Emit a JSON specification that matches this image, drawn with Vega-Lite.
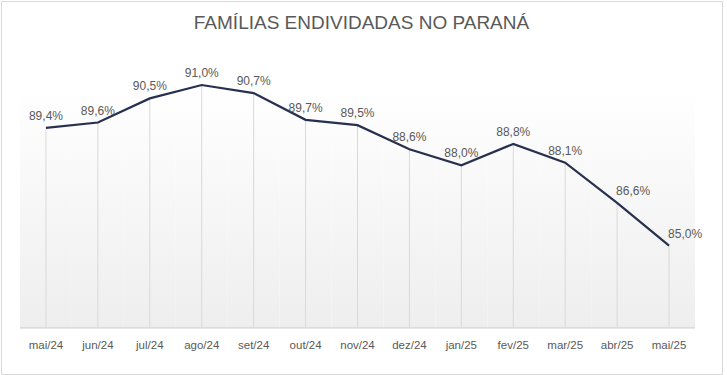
{
  "$schema": "https://vega.github.io/schema/vega-lite/v6.json",
  "width": 721,
  "height": 373,
  "autosize": {"type": "none"},
  "padding": {"left": 1, "top": 1, "right": 5, "bottom": 1},
  "background": "#ffffff",
  "config": {
    "view": {"stroke": "#d9d9d9", "strokeWidth": 1, "fill": "#ffffff"},
    "font": "Liberation Sans"
  },
  "title": {
    "text": "FAMÍLIAS ENDIVIDADAS NO PARANÁ",
    "anchor": "middle",
    "fontSize": 19,
    "fontWeight": "normal",
    "color": "#595959",
    "font": "Liberation Sans",
    "baseline": "middle",
    "offset": -41
  },
  "data": {
    "values": [
      {"m": "mai/24", "v": 89.4, "label": "89,4%"},
      {"m": "jun/24", "v": 89.6, "label": "89,6%"},
      {"m": "jul/24", "v": 90.5, "label": "90,5%"},
      {"m": "ago/24", "v": 91.0, "label": "91,0%"},
      {"m": "set/24", "v": 90.7, "label": "90,7%"},
      {"m": "out/24", "v": 89.7, "label": "89,7%"},
      {"m": "nov/24", "v": 89.5, "label": "89,5%"},
      {"m": "dez/24", "v": 88.6, "label": "88,6%"},
      {"m": "jan/25", "v": 88.0, "label": "88,0%"},
      {"m": "fev/25", "v": 88.8, "label": "88,8%"},
      {"m": "mar/25", "v": 88.1, "label": "88,1%"},
      {"m": "abr/25", "v": 86.6, "label": "86,6%"},
      {"m": "mai/25", "v": 85.0, "label": "85,0%"}
    ]
  },
  "layer": [
    {
      "mark": {
        "type": "rect",
        "color": {
          "gradient": "linear",
          "x1": 0, "y1": 0, "x2": 0, "y2": 1,
          "stops": [
            {"offset": 0, "color": "#ffffff"},
            {"offset": 1, "color": "#eeeeee"}
          ]
        }
      },
      "encoding": {
        "x": {
          "field": "m", "type": "nominal", "sort": null,
          "scale": {"type": "band", "paddingInner": 0, "paddingOuter": 0.443, "align": 0.413},
          "axis": null
        },
        "y": {
          "datum": 90.93, "type": "quantitative",
          "scale": {"domain": [80.209, 94.137], "nice": false, "zero": false},
          "axis": null
        },
        "y2": {"datum": 81.93}
      }
    },
    {
      "mark": {"type": "rect", "fill": null, "stroke": "#d9d9d9", "strokeWidth": 1},
      "encoding": {
        "x": {"field": "m", "type": "nominal", "sort": null, "axis": null},
        "y": {"datum": 81.93, "type": "quantitative"},
        "y2": {"datum": 81.93}
      }
    },
    {
      "mark": {"type": "rule", "color": "#d9d9d9", "strokeWidth": 1},
      "encoding": {
        "x": {"field": "m", "type": "nominal", "sort": null, "bandPosition": 0.5, "axis": null},
        "y": {"field": "v", "type": "quantitative"},
        "y2": {"datum": 81.93}
      }
    },
    {
      "mark": {"type": "line", "color": "#283050", "strokeWidth": 2.2},
      "encoding": {
        "x": {"field": "m", "type": "nominal", "sort": null, "bandPosition": 0.5, "axis": null},
        "y": {"field": "v", "type": "quantitative"}
      }
    },
    {
      "transform": [{"filter": "datum.v > 87"}],
      "mark": {"type": "text", "fontSize": 12, "color": "#595959", "baseline": "middle", "align": "center", "dy": -12},
      "encoding": {
        "x": {"field": "m", "type": "nominal", "sort": null, "bandPosition": 0.5, "axis": null},
        "y": {"field": "v", "type": "quantitative"},
        "text": {"field": "label"}
      }
    },
    {
      "transform": [{"filter": "datum.v <= 87"}],
      "mark": {"type": "text", "fontSize": 12, "color": "#595959", "baseline": "middle", "align": "left", "dx": -1, "dy": -12},
      "encoding": {
        "x": {"field": "m", "type": "nominal", "sort": null, "bandPosition": 0.5, "axis": null},
        "y": {"field": "v", "type": "quantitative"},
        "text": {"field": "label"}
      }
    },
    {
      "mark": {"type": "text", "fontSize": 11.5, "color": "#595959", "baseline": "middle", "align": "center"},
      "encoding": {
        "x": {"field": "m", "type": "nominal", "sort": null, "bandPosition": 0.5, "axis": null},
        "y": {"datum": 81.255, "type": "quantitative"},
        "text": {"field": "m"}
      }
    }
  ]
}
